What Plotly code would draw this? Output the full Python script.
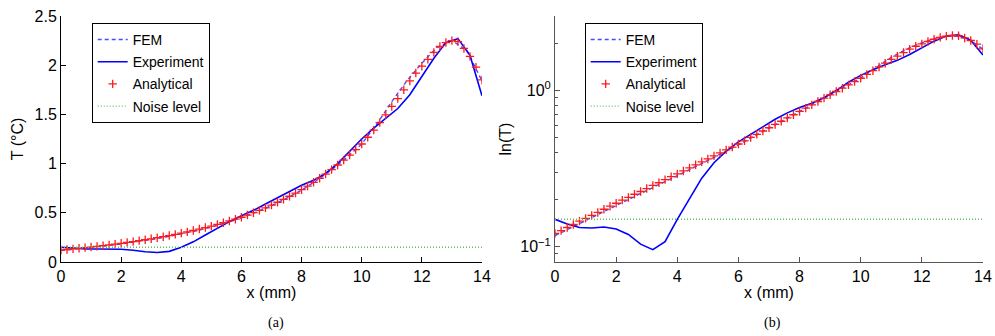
import plotly.graph_objects as go

# ---------------- data ----------------
x_analytical = [0.0, 0.2, 0.4, 0.6, 0.8, 1.0, 1.2, 1.4, 1.6, 1.8,
                2.0, 2.2, 2.4, 2.6, 2.8, 3.0, 3.2, 3.4, 3.6, 3.8,
                4.0, 4.2, 4.4, 4.6, 4.8, 5.0, 5.2, 5.4, 5.6, 5.8,
                6.0, 6.2, 6.4, 6.6, 6.8, 7.0, 7.2, 7.4, 7.6, 7.8,
                8.0, 8.2, 8.4, 8.6, 8.8, 9.0, 9.2, 9.4, 9.6, 9.8,
                10.0, 10.2, 10.4, 10.6, 10.8, 11.0, 11.2, 11.4, 11.6, 11.8,
                12.0, 12.2, 12.4, 12.6, 12.8, 13.0, 13.2, 13.4, 13.6, 13.8,
                14.0]
t_analytical = [0.122, 0.127, 0.133, 0.139, 0.146, 0.152, 0.159, 0.166, 0.174, 0.182,
                0.190, 0.199, 0.207, 0.217, 0.226, 0.236, 0.247, 0.257, 0.269, 0.281,
                0.293, 0.306, 0.320, 0.335, 0.350, 0.365, 0.382, 0.399, 0.417, 0.435,
                0.455, 0.477, 0.501, 0.525, 0.551, 0.578, 0.607, 0.636, 0.668, 0.700,
                0.735, 0.772, 0.810, 0.851, 0.894, 0.939, 0.986, 1.035, 1.087, 1.142,
                1.199, 1.268, 1.340, 1.416, 1.496, 1.581, 1.66, 1.75, 1.84, 1.92,
                1.99, 2.06, 2.13, 2.19, 2.23, 2.25, 2.24, 2.17, 2.09, 1.98,
                1.85]

x_fem = [0.0, 0.5, 1.0, 1.5, 2.0, 2.5, 3.0, 3.5, 4.0, 4.5,
         5.0, 5.5, 6.0, 6.5, 7.0, 7.5, 8.0, 8.5, 9.0, 9.5,
         10.0, 10.5, 11.0, 11.5, 12.0, 12.5, 13.0, 13.5, 14.0]
t_fem = [0.118, 0.132, 0.147, 0.164, 0.184, 0.205, 0.229, 0.256, 0.285, 0.318,
         0.355, 0.400, 0.450, 0.508, 0.573, 0.648, 0.730, 0.828, 0.937, 1.06,
         1.20, 1.40, 1.63, 1.84, 2.02, 2.18, 2.25, 2.15, 1.84]

x_exp = [0.0, 0.4, 0.8, 1.2, 1.6, 2.0, 2.4, 2.8, 3.2, 3.6,
         4.0, 4.4, 4.8, 5.2, 5.6, 6.0, 6.4, 6.8, 7.2, 7.6,
         8.0, 8.4, 8.8, 9.2, 9.6, 10.0, 10.4, 10.8, 11.2, 11.6,
         12.0, 12.4, 12.8, 13.2, 13.6, 14.0]
t_exp = [0.150, 0.140, 0.133, 0.132, 0.134, 0.130, 0.120, 0.104, 0.096, 0.108,
         0.150, 0.205, 0.275, 0.345, 0.410, 0.470, 0.525, 0.590, 0.655, 0.720,
         0.780, 0.830, 0.900, 1.00, 1.13, 1.25, 1.36, 1.46, 1.56, 1.70,
         1.88, 2.07, 2.23, 2.27, 2.10, 1.69]

x_noise = [0.0, 14.0]
t_noise = [0.15, 0.15]

x_tickvals = [0, 2, 4, 6, 8, 10, 12, 14]
y_lin_tickvals = [0, 0.5, 1, 1.5, 2, 2.5]
y_lin_ticktext = ["0", "0.5", "1", "1.5", "2", "2.5"]
y_log_tickvals = [0.1, 1]
y_log_ticktext = ["10<sup>\u22121</sup>", "10<sup>0</sup>"]
y_log_minor = [0.08, 0.09, 0.2, 0.3, 0.4, 0.5, 0.6, 0.7, 0.8, 0.9, 2, 3]

names = ["FEM", "Experiment", "Analytical", "Noise level"]
captions = ["(a)", "(b)"]

# ---------------- figure ----------------
FONT = "Liberation Sans, Arial, Helvetica, sans-serif"
fig = go.Figure()

panels = [("x", "y", "legend"), ("x2", "y2", "legend2")]
for xa, ya, lg in panels:
    fig.add_trace(go.Scatter(x=x_fem, y=t_fem, mode="lines", name=names[0],
                             line=dict(color="#4a4aff", width=1.4, dash="4px,3px"),
                             xaxis=xa, yaxis=ya, legend=lg, legendgroup=lg + "a"))
    fig.add_trace(go.Scatter(x=x_exp, y=t_exp, mode="lines", name=names[1],
                             line=dict(color="#0000ff", width=1.6),
                             xaxis=xa, yaxis=ya, legend=lg, legendgroup=lg + "b"))
    fig.add_trace(go.Scatter(x=x_analytical, y=t_analytical, mode="markers", name=names[2],
                             marker=dict(symbol="cross-thin", size=6, color="#ff0000",
                                         line=dict(color="#ff1a1a", width=1.3)),
                             xaxis=xa, yaxis=ya, legend=lg, legendgroup=lg + "c"))
    fig.add_trace(go.Scatter(x=x_noise, y=t_noise, mode="lines", name=names[3],
                             line=dict(color="#5cc25c", width=1.4, dash="1px,2px"),
                             xaxis=xa, yaxis=ya, legend=lg, legendgroup=lg + "d"))

axis_common = dict(showline=True, mirror=False, showgrid=False, zeroline=False,
                   ticks="inside", ticklen=5, tickwidth=1, automargin=False,
                   ticklabeloverflow="allow",
                   tickfont=dict(family=FONT, size=16, color="black"))

fig.update_layout(
    width=995, height=336,
    margin=dict(l=61, r=12, t=16, b=74),
    paper_bgcolor="white", plot_bgcolor="white",
    font=dict(family=FONT, size=14, color="black"),
    xaxis=dict(domain=[0, 0.4566], range=[0, 14], tickvals=x_tickvals,
               linecolor="black", tickcolor="black",
               title=dict(text="x (mm)", font=dict(size=16), standoff=2), **axis_common),
    yaxis=dict(domain=[0, 1], range=[0, 2.5], tickvals=y_lin_tickvals, ticktext=y_lin_ticktext,
               linecolor="black", tickcolor="black",
               title=dict(text="T (\u00b0C)", font=dict(size=16), standoff=6), **axis_common),
    xaxis2=dict(domain=[0.5358, 1], range=[0, 14], tickvals=x_tickvals, anchor="y2",
                linecolor="#555", tickcolor="#555",
                title=dict(text="x (mm)", font=dict(size=16), standoff=2), **axis_common),
    yaxis2=dict(domain=[0, 1], type="log", range=[-1.097, 0.477], anchor="x2",
                tickvals=y_log_tickvals, ticktext=y_log_ticktext,
                linecolor="#555", tickcolor="#555",
                minor=dict(tickvals=y_log_minor, ticks="inside", ticklen=3, tickcolor="#555"),
                title=dict(text="ln(T)", font=dict(size=16), standoff=4), **axis_common),
    legend=dict(x=0.0333, y=0.972, xanchor="left", yanchor="top",
                bordercolor="black", borderwidth=1, bgcolor="white",
                font=dict(size=14), itemwidth=30, tracegroupgap=1),
    legend2=dict(x=0.568, y=0.972, xanchor="left", yanchor="top",
                 bordercolor="black", borderwidth=1, bgcolor="white",
                 font=dict(size=14), itemwidth=30, tracegroupgap=1),
    annotations=[
        dict(text=captions[0], x=0.233, y=-0.249, xref="paper", yref="paper",
             showarrow=False, xanchor="center", yanchor="middle",
             font=dict(family="Liberation Serif, Times New Roman, serif", size=14)),
        dict(text=captions[1], x=0.772, y=-0.249, xref="paper", yref="paper",
             showarrow=False, xanchor="center", yanchor="middle",
             font=dict(family="Liberation Serif, Times New Roman, serif", size=14)),
    ],
)

# remove the default 8px page margin so the 995x336 figure fills the window exactly
fig.write_html("out.html", config={"displayModeBar": False},
               post_script="document.body.style.margin='0';")
